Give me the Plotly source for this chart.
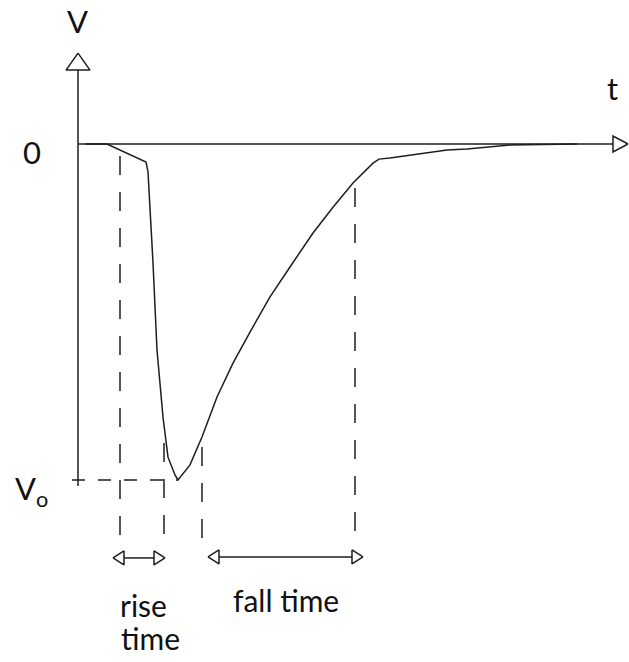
import plotly.graph_objects as go

# ---- data (time in px-like units from the V axis, voltage normalised so Vo = -1) ----
pulse_t = [7, 29, 68, 70, 75, 79, 85, 90, 97, 100, 112, 124, 139, 155, 172, 192, 212,
           235, 255, 275, 295, 301, 312, 332, 349, 369, 389, 409, 432, 499]
pulse_v = [0.0, 0.0, -0.054, -0.083, -0.354, -0.613, -0.813, -0.932, -0.985, -1.0,
           -0.955, -0.872, -0.753, -0.652, -0.560, -0.455, -0.366, -0.265, -0.188,
           -0.116, -0.057, -0.045, -0.042, -0.033, -0.027, -0.018, -0.015, -0.009,
           -0.003, 0.0]

# guide (dashed) lines: time, top, bottom
guide_t = [42, 86, 124, 277]
guide_top = [-0.036, -0.890, -0.902, -0.131]
guide_bot = [-1.202, -1.208, -1.196, -1.158]

Vo = -1.0
vo_line_t = [-6, 100]

# interval arrows: start, end, level
rise_t = [35, 87]
rise_v = -1.232
fall_t = [130, 285]
fall_v = -1.229

t_axis_end = 535
v_axis_top = 0.220
v_axis_bottom = -1.018

INK = "#1e1e1e"
FONT = "Lato"

# pixel scale helpers (1 unit of t = 1 px, 1 unit of V = 336 px)
PX_V = 1 / 336.0

fig = go.Figure()

# axes
fig.add_trace(go.Scatter(x=[0, 0], y=[v_axis_top, v_axis_bottom], mode="lines",
                         line=dict(color=INK, width=1.5), hoverinfo="skip"))
fig.add_trace(go.Scatter(x=[0, t_axis_end], y=[0, 0], mode="lines",
                         line=dict(color=INK, width=1.5), hoverinfo="skip"))

# open triangular arrowheads
def head(tip_x, tip_y, direction, length, half):
    if direction == "up":
        xs = [tip_x, tip_x - half, tip_x + half, tip_x]
        ys = [tip_y, tip_y - length * PX_V, tip_y - length * PX_V, tip_y]
    elif direction == "right":
        xs = [tip_x, tip_x - length, tip_x - length, tip_x]
        ys = [tip_y, tip_y + half * PX_V, tip_y - half * PX_V, tip_y]
    else:  # left
        xs = [tip_x, tip_x + length, tip_x + length, tip_x]
        ys = [tip_y, tip_y + half * PX_V, tip_y - half * PX_V, tip_y]
    fig.add_trace(go.Scatter(x=xs, y=ys, mode="lines", fill="toself",
                             fillcolor="white", line=dict(color=INK, width=1.5),
                             hoverinfo="skip"))

head(0, v_axis_top + 17 * PX_V, "up", 17, 12)
head(t_axis_end + 15, 0, "right", 15, 8)

# Vo dashed level
fig.add_trace(go.Scatter(x=vo_line_t, y=[Vo, Vo], mode="lines",
                         line=dict(color=INK, width=1.5, dash="13px,13px"), hoverinfo="skip"))

# dashed guides
for t, a, b in zip(guide_t, guide_top, guide_bot):
    fig.add_trace(go.Scatter(x=[t, t], y=[a, b], mode="lines",
                             line=dict(color=INK, width=1.5, dash="19px,17px"),
                             hoverinfo="skip"))

# the pulse
fig.add_trace(go.Scatter(x=pulse_t, y=pulse_v, mode="lines",
                         line=dict(color=INK, width=1.5), hoverinfo="skip"))

# interval arrows
for (a, b), lvl in [(rise_t, rise_v), (fall_t, fall_v)]:
    fig.add_trace(go.Scatter(x=[a + 11, b - 11], y=[lvl, lvl], mode="lines",
                             line=dict(color=INK, width=1.5), hoverinfo="skip"))
    head(a, lvl, "left", 11, 7)
    head(b, lvl, "right", 11, 7)

# labels
labels = [
    ("V", -1, 0.366, 31),
    ("t", 534, 0.167, 31),
    ("0", -46, -0.024, 31),
    ("V<sub>o</sub>", -47, -1.03, 31),
    ("rise", 65, -1.372, 30),
    ("time", 72, -1.47, 30),
    ("fall time", 208, -1.357, 30),
]
for txt, x, y, sz in labels:
    fig.add_annotation(x=x, y=y, text=txt, showarrow=False, xanchor="center", yanchor="middle",
                       font=dict(family=FONT, size=sz, color="#111111"))

fig.update_layout(
    width=629, height=662, margin=dict(l=0, r=0, t=0, b=0),
    paper_bgcolor="white", plot_bgcolor="white", showlegend=False,
    xaxis=dict(range=[-78, 551], visible=False, fixedrange=True),
    yaxis=dict(range=[-518 / 336.0, 144 / 336.0], visible=False, fixedrange=True),
)

# remove the browser's default 8px body margin so the figure fills the window
fig.write_html("out.html", config={"displayModeBar": False},
               post_script="document.body.style.margin='0';")
